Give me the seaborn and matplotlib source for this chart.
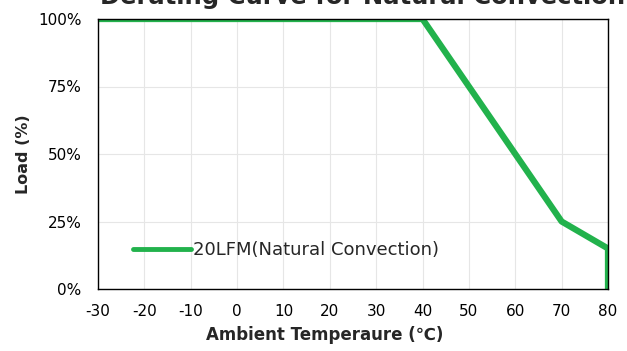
import pandas as pd
import matplotlib.pyplot as plt
import seaborn as sns
import matplotlib.ticker as ticker

sns.set_theme(style="whitegrid")
plt.rcParams['font.family'] = ['DejaVu Sans']
plt.rcParams['axes.unicode_minus'] = False

temperature = [-30, 40, 70, 80, 80]
load = [100, 100, 25, 15, 0]
series_name = "20LFM(Natural Convection)"
xticks_list = list(range(-30, 90, 10))
yticks_list = [0, 25, 50, 75, 100]

df = pd.DataFrame({"Ambient": temperature, "Load": load, "Series": series_name})

fig = plt.figure(figsize=(6.27, 3.51), dpi=100)
ax = fig.add_axes([98 / 627, 1 - 289 / 351, 510 / 627, 270 / 351])

sns.lineplot(x="Ambient", y="Load", hue="Series", data=df, ax=ax, sort=False,
             palette=["#22b24c"], linewidth=4.5, estimator=None)
ax.set_xlim(-30, 80)
ax.set_ylim(0, 100)
ax.set_xticks(xticks_list)
ax.set_yticks(yticks_list)
ax.yaxis.set_major_formatter(ticker.FuncFormatter(lambda v, p: f"{int(v)}%"))
ax.tick_params(labelsize=11, length=0, colors="black")
ax.tick_params(axis="y", pad=12)
ax.tick_params(axis="x", pad=11)
ax.grid(color="#e6e6e6", linewidth=0.8)
for s in ax.spines.values():
    s.set_color("black")
    s.set_linewidth(1.0)
ax.set_xlabel("Ambient Temperaure (\u2103)", fontsize=12, fontweight="bold")
ax.set_ylabel("Load (%)", fontsize=11.5, fontweight="bold")
ax.xaxis.set_label_coords((325 - 98) / 510, -(335 - 289) / 270, transform=ax.transAxes)
ax.xaxis.label.set_va("center")
ax.yaxis.set_label_coords(-(98 - 24) / 510, 0.5, transform=ax.transAxes)
ax.yaxis.label.set_va("center")

lines, labels = ax.get_legend_handles_labels()
ax.get_legend().remove()
leg = ax.legend(lines, labels, loc="center left", bbox_to_anchor=((133 - 98) / 510, (289 - 250) / 270),
                frameon=False, fontsize=13, handlelength=3.2, handletextpad=0.1,
                borderpad=0, borderaxespad=0)
for h in leg.get_lines():
    h.set_linewidth(3.5)

fig.text(100 / 627, 1 - 4 / 351, "Derating Curve for Natural Convection", fontsize=17.5,
         fontweight="bold", va="baseline", ha="left")

fig.savefig("out.png", dpi=100)
